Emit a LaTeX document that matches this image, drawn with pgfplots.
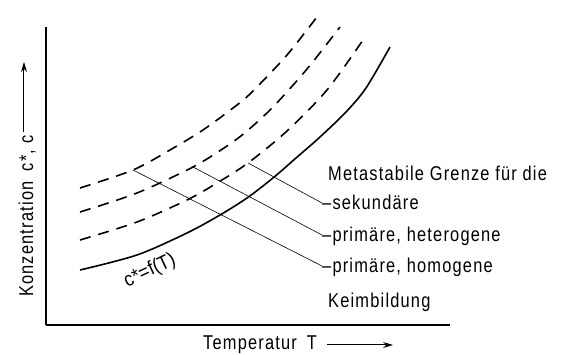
\documentclass[border=0pt]{standalone}
\usepackage{fontspec}
\setmainfont{Liberation Sans}[FakeStretch=0.82, LetterSpace=6]
\newfontfamily\curvefont{Liberation Sans}[FakeStretch=0.9]
\usepackage{pgfplots}
\pgfplotsset{compat=1.18}
\usetikzlibrary{arrows.meta}

\newcommand{\lblfont}{\fontsize{20}{24}\selectfont}

\begin{document}
\begin{tikzpicture}
\path[use as bounding box] (0,0) rectangle (562pt,355pt);
\begin{axis}[
  at={(46pt,30pt)}, anchor=south west,
  scale only axis, width=404pt, height=298pt,
  xmin=0, xmax=404, ymin=0, ymax=298,
  axis x line=bottom, axis y line=left,
  axis line style={-, line width=1.1pt},
  ticks=none,
  clip=false,
]
% solubility curve c* = f(T)
\addplot[smooth, line width=1.6pt] coordinates {
  (34,55) (91,70) (141,92) (174,110) (201,127) (227,147)
  (250,167) (274,188) (300,213) (320,237) (344,278)};
% metastable limits: homogeneous, heterogeneous, secondary nucleation
\addplot[smooth, line width=1.6pt, dash pattern=on 11pt off 8pt] coordinates {
  (34,137) (87,155) (124,175) (157,195) (191,220) (207,234) (241,270) (274,312)};
\addplot[smooth, line width=1.6pt, dash pattern=on 11pt off 8pt] coordinates {
  (34,113) (91,132) (147,158) (181,179) (201,194) (227,218) (261,256) (294,298)};
\addplot[smooth, line width=1.6pt, dash pattern=on 11pt off 8pt] coordinates {
  (34,85) (91,103) (141,125) (171,142) (202,162) (241,194) (281,235) (317,285)};
% leader lines to the labels
\addplot[sharp plot, line width=0.6pt] coordinates {(87,155) (276,59)};
\addplot[sharp plot, line width=0.6pt] coordinates {(147,158) (276,90)};
\addplot[sharp plot, line width=0.6pt] coordinates {(202,162) (276,122)};

\node[anchor=base west, font=\lblfont, inner sep=0pt] at (axis cs:282,144) {Metastabile Grenze für die};
\node[anchor=base west, font=\lblfont, inner sep=0pt] at (axis cs:276,115) {–sekundäre};
\node[anchor=base west, font=\lblfont, inner sep=0pt] at (axis cs:276,83) {–primäre, heterogene};
\node[anchor=base west, font=\lblfont, inner sep=0pt] at (axis cs:276,52) {–primäre, homogene};
\node[anchor=base west, font=\lblfont, inner sep=0pt] at (axis cs:282,17) {Keimbildung};

\node[rotate=25, font=\curvefont\lblfont, inner sep=0pt] at (axis cs:104,54) {c*=f(T)};

% axis titles with arrows
\node[rotate=90, anchor=base west, font=\lblfont, inner sep=0pt] at (axis cs:-13,28) {Konzentration\enspace c*, c};
\draw[line width=1pt, -{Stealth[length=10pt,width=6pt]}] (axis cs:-22,193) -- (axis cs:-22,263);
\node[anchor=base west, font=\lblfont, inner sep=0pt] at (axis cs:157,-25) {Temperatur\enspace T};
\draw[line width=1pt, -{Stealth[length=10pt,width=6pt]}] (axis cs:281,-20) -- (axis cs:347,-20);
\end{axis}
\end{tikzpicture}
\end{document}
